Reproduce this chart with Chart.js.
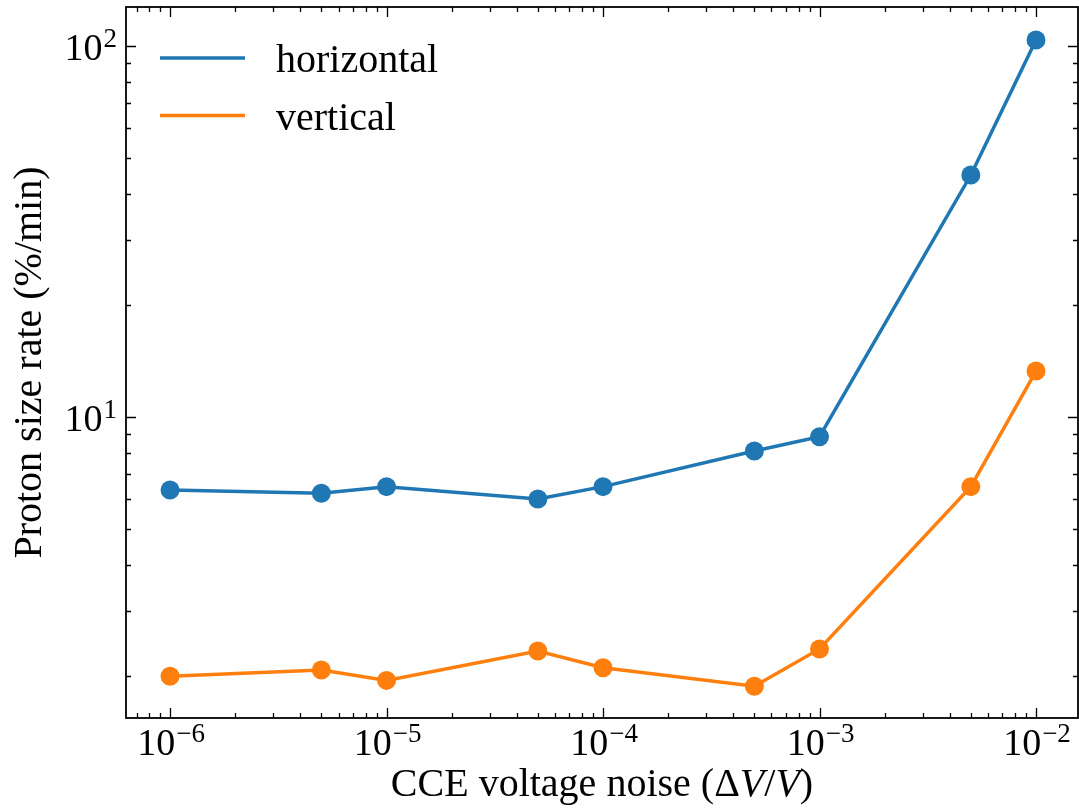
<!DOCTYPE html>
<html>
<head>
<meta charset="utf-8">
<script src="https://cdn.jsdelivr.net/npm/chart.js@4/dist/chart.umd.min.js"></script>
<style>
  html, body { margin: 0; padding: 0; background: #fff; }
  #wrap { width: 1079px; height: 812px; position: relative; }
</style>
</head>
<body>
<div id="wrap"><canvas id="chart"></canvas></div>
<script>
// --- dados ---
const noiseLevels = [1e-6, 5e-6, 1e-5, 5e-5, 1e-4, 5e-4, 1e-3, 5e-3, 1e-2];
const horizontalRate = [6.36, 6.23, 6.49, 6.01, 6.49, 8.10, 8.85, 44.9, 103.8];
const verticalRate = [2.00, 2.08, 1.95, 2.34, 2.11, 1.88, 2.37, 6.49, 13.3];
const seriesLabels = ['horizontal', 'vertical'];
const seriesColors = ['#1f77b4', '#ff7f0e'];
const xMajorExps = [-6, -5, -4, -3, -2];
const yMajorExps = [1, 2];

const xMin = 6.26e-7, xMax = 0.01563;
const yMin = 1.544, yMax = 127.4;

const SERIF = '"Liberation Serif", "Times New Roman", serif';

function toPoints(xs, ys) {
    return xs.map((x, i) => ({ x: x, y: ys[i] }));
}

function minorTicks(min, max) {
    const out = [];
    for (let e = Math.floor(Math.log10(min)); e <= Math.ceil(Math.log10(max)); e++) {
        for (let m = 1; m <= 9; m++) {
            const v = m * Math.pow(10, e);
            if (v >= min && v <= max) out.push({ v: v, major: m === 1 });
        }
    }
    return out;
}

// desenha "10^exp" com o expoente em sobrescrito
function drawPower(ctx, exp, x, y, align) {
    const baseFont = '38px ' + SERIF, supFont = '27px ' + SERIF;
    const expStr = exp < 0 ? '\u2212' + Math.abs(exp) : String(exp);
    ctx.font = baseFont;
    const wb = ctx.measureText('10').width;
    ctx.font = supFont;
    const ws = ctx.measureText(expStr).width;
    const total = wb + ws + 1;
    let left = x;
    if (align === 'center') left = x - total / 2;
    else if (align === 'right') left = x - total;
    ctx.textAlign = 'left';
    ctx.textBaseline = 'alphabetic';
    ctx.font = baseFont;
    ctx.fillText('10', left, y);
    ctx.font = supFont;
    ctx.fillText(expStr, left + wb + 1, y - 13);
}

const framePlugin = {
    id: 'frame',
    afterDatasetsDraw(chart) {
        const { ctx, chartArea: a, scales } = chart;
        const xs = scales.x, ys = scales.y;
        ctx.save();
        ctx.fillStyle = '#000';
        ctx.strokeStyle = '#000';

        // ticks para dentro nos quatro lados
        ctx.lineWidth = 1.3;
        ctx.beginPath();
        minorTicks(xMin, xMax).forEach(t => {
            const px = Math.round(xs.getPixelForValue(t.v)) + 0.5;
            const len = t.major ? 10 : 5;
            ctx.moveTo(px, a.bottom); ctx.lineTo(px, a.bottom - len);
            ctx.moveTo(px, a.top); ctx.lineTo(px, a.top + len);
        });
        minorTicks(yMin, yMax).forEach(t => {
            const py = Math.round(ys.getPixelForValue(t.v)) + 0.5;
            const len = t.major ? 10 : 5;
            ctx.moveTo(a.left, py); ctx.lineTo(a.left + len, py);
            ctx.moveTo(a.right, py); ctx.lineTo(a.right - len, py);
        });
        ctx.stroke();

        // moldura
        ctx.lineWidth = 1.8;
        ctx.strokeRect(a.left, a.top, a.right - a.left, a.bottom - a.top);

        // rótulos dos ticks
        xMajorExps.forEach(e => {
            drawPower(ctx, e, xs.getPixelForValue(Math.pow(10, e)) + 1, a.bottom + 37, 'center');
        });
        yMajorExps.forEach(e => {
            drawPower(ctx, e, a.left - 9, ys.getPixelForValue(Math.pow(10, e)) + 13.5, 'right');
        });

        // título do eixo x com V em itálico
        const parts = [
            { t: 'CCE voltage noise (\u0394', it: false },
            { t: 'V', it: true },
            { t: '/', it: false },
            { t: 'V', it: true },
            { t: ')', it: false }
        ];
        let totalW = 0;
        parts.forEach(p => {
            ctx.font = (p.it ? 'italic ' : '') + '40px ' + SERIF;
            p.w = ctx.measureText(p.t).width;
            totalW += p.w;
        });
        let cx = (a.left + a.right) / 2 - totalW / 2;
        ctx.textAlign = 'left';
        ctx.textBaseline = 'alphabetic';
        parts.forEach(p => {
            ctx.font = (p.it ? 'italic ' : '') + '40px ' + SERIF;
            ctx.fillText(p.t, cx, 796);
            cx += p.w;
        });

        // título do eixo y
        ctx.save();
        ctx.translate(30, (a.top + a.bottom) / 2);
        ctx.rotate(-Math.PI / 2);
        ctx.font = '40px ' + SERIF;
        ctx.textAlign = 'center';
        ctx.textBaseline = 'middle';
        ctx.fillText('Proton size rate (%/min)', 0, 0);
        ctx.restore();

        // legenda
        chart.data.datasets.forEach((ds, i) => {
            const ly = 58 + i * 57.5;
            ctx.strokeStyle = ds.borderColor;
            ctx.lineWidth = 3.5;
            ctx.beginPath();
            ctx.moveTo(160, ly); ctx.lineTo(245, ly);
            ctx.stroke();
            ctx.fillStyle = '#000';
            ctx.font = '40px ' + SERIF;
            ctx.textAlign = 'left';
            ctx.textBaseline = 'alphabetic';
            ctx.fillText(ds.label, 276, ly + 14);
        });
        ctx.restore();
    }
};

const ctx = document.getElementById('chart').getContext('2d');
new Chart(ctx, {
    type: 'line',
    data: {
        datasets: [
            {
                label: seriesLabels[0],
                data: toPoints(noiseLevels, horizontalRate),
                borderColor: seriesColors[0],
                backgroundColor: seriesColors[0],
                borderWidth: 3.5,
                pointRadius: 9.5,
                pointBorderWidth: 0,
                pointHoverRadius: 9.5,
                tension: 0
            },
            {
                label: seriesLabels[1],
                data: toPoints(noiseLevels, verticalRate),
                borderColor: seriesColors[1],
                backgroundColor: seriesColors[1],
                borderWidth: 3.5,
                pointRadius: 9.5,
                pointBorderWidth: 0,
                pointHoverRadius: 9.5,
                tension: 0
            }
        ]
    },
    options: {
        responsive: true,
        maintainAspectRatio: false,
        animation: false,
        layout: { autoPadding: false, padding: { left: 126, top: 7, right: 1, bottom: 94 } },
        plugins: {
            legend: { display: false },
            tooltip: { enabled: false }
        },
        scales: {
            x: { type: 'logarithmic', min: xMin, max: xMax, bounds: 'data', display: false },
            y: { type: 'logarithmic', min: yMin, max: yMax, bounds: 'data', display: false }
        }
    },
    plugins: [framePlugin]
});
</script>
</body>
</html>
